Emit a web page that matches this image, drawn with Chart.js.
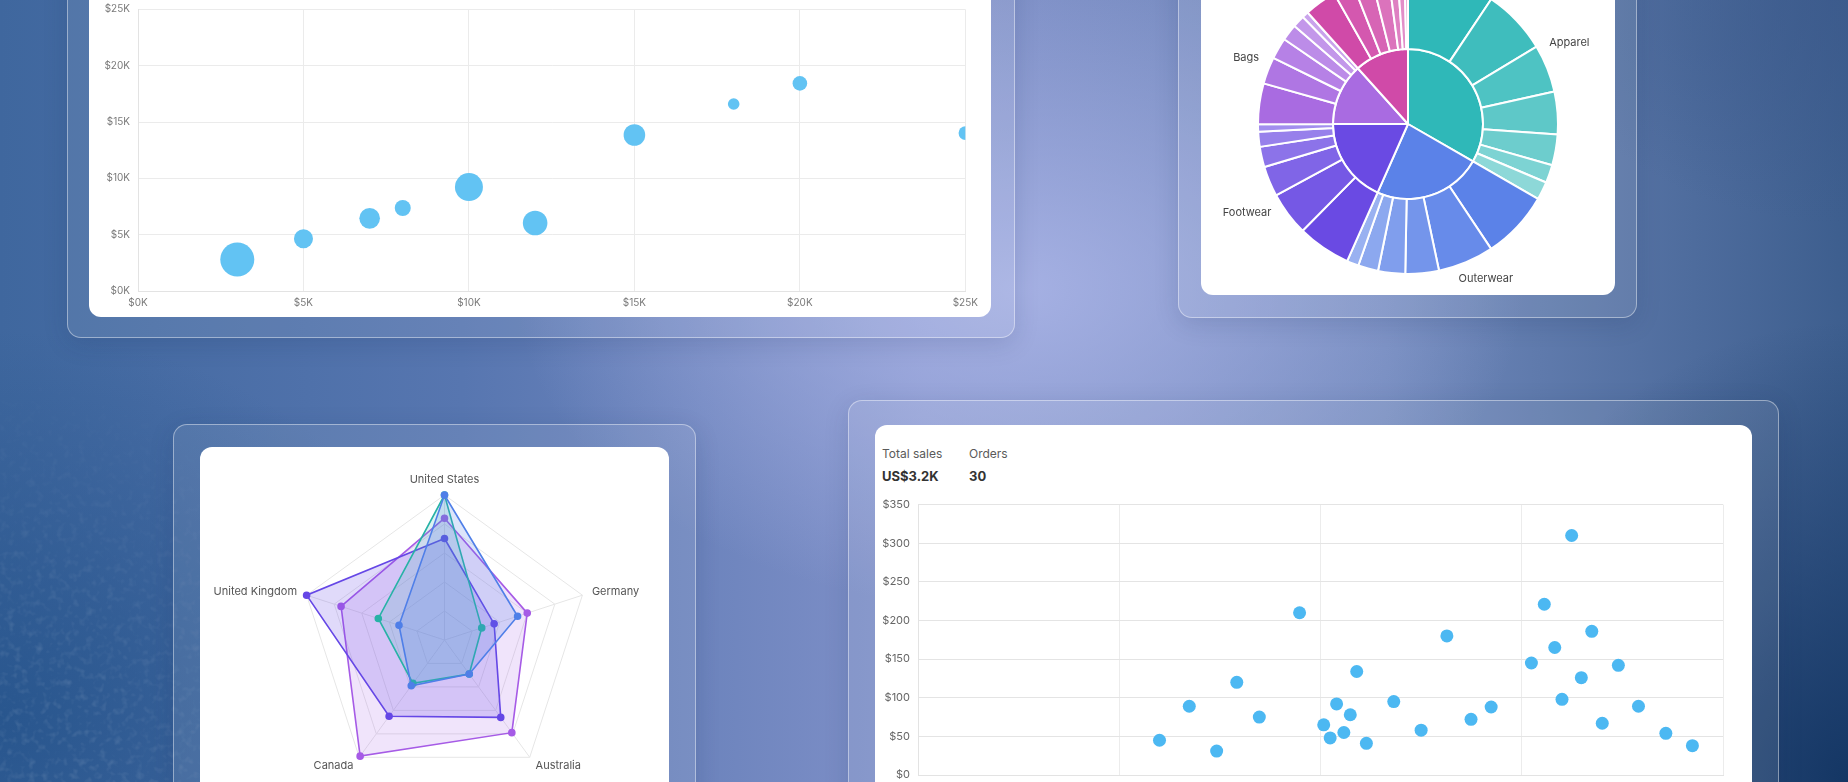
<!DOCTYPE html>
<html>
<head>
<meta charset="utf-8">
<script src="https://cdn.jsdelivr.net/npm/chart.js@4.4.1/dist/chart.umd.min.js"></script>
<style>
html,body{margin:0;padding:0;width:1848px;height:782px;overflow:hidden;}
body{
  position:relative;
  font-family:Inter,"Noto Sans",sans-serif;
  background-color:#5a76ad;
  background-image:
    radial-gradient(ellipse 720px 460px at 1020px 290px, rgba(172,182,232,0.85), rgba(172,182,232,0) 70%),
    radial-gradient(ellipse 560px 640px at 1848px 782px, rgba(18,52,98,0.95), rgba(18,52,98,0) 72%),
    radial-gradient(ellipse 420px 300px at 1848px 0px, rgba(60,90,140,0.7), rgba(60,90,140,0) 75%),
    radial-gradient(ellipse 620px 520px at 0px 720px, rgba(38,84,140,0.9), rgba(38,84,140,0) 75%),
    linear-gradient(90deg, #3f679e 0%, #5776b0 25%, #8191c9 50%, #7088bb 75%, #3d5e8e 100%);
}
.noise{position:absolute;left:0;top:330px;width:380px;height:452px;opacity:0.18;
  background-image:url("data:image/svg+xml;utf8,<svg xmlns='http://www.w3.org/2000/svg' width='380' height='452'><filter id='n'><feTurbulence type='fractalNoise' baseFrequency='0.14' numOctaves='2' seed='3'/><feColorMatrix values='0 0 0 0 1  0 0 0 0 1  0 0 0 0 1  0 0 0 1.4 -0.7'/></filter><rect width='100%' height='100%' filter='url(%23n)'/></svg>");
  -webkit-mask-image:radial-gradient(ellipse 380px 420px at 0px 452px, #000 30%, transparent 100%);
  mask-image:radial-gradient(ellipse 380px 420px at 0px 452px, #000 30%, transparent 100%);
}
.glass{position:absolute;border-radius:14px;background:rgba(255,255,255,0.09);
  border:1.5px solid rgba(255,255,255,0.42);box-shadow:0 6px 24px rgba(20,40,90,0.15);box-sizing:border-box;}
.card{position:absolute;background:#fff;border-radius:12px;}
canvas{position:absolute;}
.hdr{position:absolute;font-family:Inter,sans-serif;white-space:nowrap;}
.lbl{font-size:12px;color:#5a5a5a;}
.val{font-size:13px;color:#333;font-weight:700;}
</style>
</head>
<body>
<div class="noise"></div>

<div class="glass" style="left:67px;top:-200px;width:948px;height:538px;"></div>
<div class="card" style="left:89px;top:-200px;width:902px;height:517px;"></div>

<div class="glass" style="left:1178px;top:-200px;width:459px;height:518px;"></div>
<div class="card" style="left:1201px;top:-200px;width:414px;height:495px;"></div>

<div class="glass" style="left:173px;top:424px;width:523px;height:420px;"></div>
<div class="card" style="left:200px;top:447px;width:469px;height:400px;"></div>

<div class="glass" style="left:848px;top:400px;width:931px;height:440px;"></div>
<div class="card" style="left:875px;top:425px;width:877px;height:420px;"></div>

<div class="hdr lbl" style="left:882px;top:446px;">Total sales</div>
<div class="hdr lbl" style="left:969px;top:446px;">Orders</div>
<div class="hdr val" id="totalSales" style="left:882px;top:468px;"></div>
<div class="hdr val" id="orderCount" style="left:969px;top:468px;"></div>

<canvas id="bubble" width="884" height="337" style="left:100px;top:-20px;width:884px;height:337px;"></canvas>
<canvas id="sunburst" width="480" height="340" style="left:1168px;top:-46px;width:480px;height:340px;"></canvas>
<canvas id="radar" width="469" height="340" style="left:210px;top:447px;width:469px;height:340px;"></canvas>
<canvas id="scatter" width="870" height="340" style="left:875px;top:490px;width:870px;height:340px;"></canvas>

<script>
// ---------- Bubble chart data ----------
const bubbleX = [3000, 5000, 7000, 8000, 10000, 12000, 15000, 18000, 20000, 25000];
const bubbleY = [2800, 4640, 6450, 7370, 9230, 6040, 13850, 16600, 18430, 14020];
const bubbleSize = [17, 9.5, 10.3, 8, 14, 12.3, 10.8, 5.8, 7.3, 6.8];

// ---------- Sunburst data ----------
const categories = ['Apparel', 'Outerwear', 'Footwear', 'Bags', 'Accessories'];
const apparelShare = [33.7, 25.3, 18.5, 16.5, 12, 7, 7];
const outerwearShare = [26.4, 21.7, 13, 10.5, 7.8, 4.6];
const footwearShare = [20.7, 17, 11.7, 7.9, 5.8, 2.9];
const bagsShare = [15.8, 10.4, 8.3, 6.4, 4.7, 2.5];
const accessoriesShare = [12.5, 8, 7.5, 6.5, 3.5, 2.7, 1.3];
const categoryColors = ['#2fb8b8', '#5b82e8', '#6a4ae3', '#a96be1', '#d04aa8'];

// ---------- Radar data ----------
const countries = ['United States', 'Germany', 'Australia', 'Canada', 'United Kingdom'];
const radarBlue = [100, 53, 29, 39, 33];
const radarTeal = [100, 27, 29, 37, 48];
const radarPurple = [84, 60, 79, 99, 75];
const radarIndigo = [70, 36, 66, 65, 100];

// ---------- Orders scatter data ----------
const orderTime = [30.0, 33.7, 37.1, 39.6, 42.4, 47.4, 50.4, 51.2, 52.0, 52.9, 53.7, 54.5, 55.7, 59.1, 62.5,
                   65.7, 68.7, 71.2, 76.2, 77.8, 79.1, 80.0, 81.2, 82.4, 83.7, 85.0, 87.0, 89.5, 92.9, 96.2];
const orderValue = [45, 89, 31, 120, 75, 210, 65, 48, 92, 55, 78, 134, 41, 95, 58,
                    180, 72, 88, 145, 221, 165, 98, 310, 126, 186, 67, 142, 89, 54, 38];

Chart.defaults.font.family = 'Inter, "Noto Sans", sans-serif';
Chart.defaults.animation = false;
Chart.defaults.plugins.legend.display = false;
Chart.defaults.plugins.tooltip.enabled = false;

// ---------- Bubble chart ----------
new Chart(document.getElementById('bubble'), {
  type: 'bubble',
  data: {
    datasets: [{
      data: bubbleX.map((x, i) => ({ x: x, y: bubbleY[i], r: bubbleSize[i] })),
      backgroundColor: '#62c3f3',
      borderWidth: 0,
      hoverRadius: 0
    }]
  },
  options: {
    responsive: false,
    devicePixelRatio: 1,
    layout: { padding: { top: 29.4, right: 16, bottom: 0, left: 0 } },
    scales: {
      x: {
        type: 'linear', min: 0, max: 25000,
        ticks: { stepSize: 5000, padding: 6, color: '#7a7a7a', font: { size: 10 },
                 callback: v => '$' + (v / 1000) + 'K' },
        grid: { color: '#ebebeb', drawTicks: false },
        border: { color: '#e3e3e3' },
        afterFit: s => { s.height = 26; }
      },
      y: {
        min: 0, max: 25000,
        ticks: { stepSize: 5000, padding: 8, color: '#7a7a7a', font: { size: 10 },
                 callback: v => '$' + (v / 1000) + 'K' },
        grid: { color: '#ebebeb', drawTicks: false },
        border: { color: '#e3e3e3' },
        afterFit: s => { s.width = 38; }
      }
    }
  }
});

// ---------- Sunburst ----------
function tint(hex, t) {
  const n = parseInt(hex.slice(1), 16);
  const r = (n >> 16) & 255, g = (n >> 8) & 255, b = n & 255;
  const m = c => Math.round(c + (255 - c) * t);
  return 'rgb(' + m(r) + ',' + m(g) + ',' + m(b) + ')';
}
const subGroups = [apparelShare, outerwearShare, footwearShare, bagsShare, accessoriesShare];
const outerValues = [], outerColors = [];
subGroups.forEach((grp, ci) => {
  grp.forEach((v, i) => { outerValues.push(v); outerColors.push(tint(categoryColors[ci], i * 0.075)); });
});
const innerValues = subGroups.map(g => g.reduce((a, b) => a + b, 0));

const sunburstLabels = {
  id: 'sunburstLabels',
  afterDatasetsDraw(chart) {
    const inner = chart.getDatasetMeta(1);
    const outerR = chart.getDatasetMeta(0).data[0].outerRadius;
    const ctx = chart.ctx;
    ctx.save();
    ctx.font = '11px Inter, "Noto Sans", sans-serif';
    ctx.fillStyle = '#444';
    ctx.textBaseline = 'middle';
    inner.data.forEach((arc, i) => {
      const mid = (arc.startAngle + arc.endAngle) / 2;
      const r = outerR + 13;
      const x = arc.x + Math.cos(mid) * r;
      const y = arc.y + Math.sin(mid) * r;
      ctx.textAlign = Math.cos(mid) >= 0 ? 'left' : 'right';
      ctx.fillText(categories[i], x, y);
    });
    ctx.restore();
  }
};

new Chart(document.getElementById('sunburst'), {
  type: 'doughnut',
  data: {
    labels: categories,
    datasets: [
      { data: outerValues, backgroundColor: outerColors, borderColor: '#ffffff', borderWidth: 2 },
      { data: innerValues, backgroundColor: categoryColors, borderColor: '#ffffff', borderWidth: 2 }
    ]
  },
  options: {
    responsive: false,
    devicePixelRatio: 1,
    cutout: 0,
    layout: { padding: { top: 19, bottom: 19, left: 0, right: 0 } }
  },
  plugins: [sunburstLabels]
});

// ---------- Radar ----------
const radarLabelsPlugin = {
  id: 'radarLabels',
  afterDraw(chart) {
    const s = chart.scales.r;
    const ctx = chart.ctx;
    ctx.save();
    ctx.font = '11px Inter, "Noto Sans", sans-serif';
    ctx.fillStyle = '#555';
    countries.forEach((name, i) => {
      const p = s.getPointPosition(i, s.drawingArea + 10);
      const dx = p.x - s.xCenter, dy = p.y - s.yCenter;
      if (Math.abs(dx) < 2) { ctx.textAlign = 'center'; ctx.textBaseline = dy < 0 ? 'bottom' : 'top'; }
      else { ctx.textAlign = dx > 0 ? 'left' : 'right'; ctx.textBaseline = 'middle'; }
      ctx.fillText(name, p.x, p.y);
    });
    ctx.restore();
  }
};

function radarSet(values, color, fill) {
  return { data: values, borderColor: color, backgroundColor: fill, pointBackgroundColor: color,
           pointBorderColor: color, pointRadius: 3, borderWidth: 1.6, fill: true };
}

new Chart(document.getElementById('radar'), {
  type: 'radar',
  data: {
    labels: countries,
    datasets: [
      radarSet(radarBlue, '#4f7fe8', 'rgba(79,127,232,0.2)'),
      radarSet(radarTeal, '#27b2a6', 'rgba(39,178,166,0.16)'),
      radarSet(radarIndigo, '#6547e6', 'rgba(101,71,230,0.2)'),
      radarSet(radarPurple, '#a65be6', 'rgba(168,92,232,0.17)')
    ]
  },
  options: {
    responsive: false,
    devicePixelRatio: 1,
    scales: {
      r: {
        min: 0, max: 100,
        ticks: { display: false, stepSize: 20 },
        pointLabels: { display: false },
        grid: { color: '#e6e6e6' },
        angleLines: { color: '#e6e6e6' },
        afterFit: s => { s.xCenter = s.chart.width / 2; s.yCenter = 193; s.drawingArea = 145; }
      }
    }
  },
  plugins: [radarLabelsPlugin]
});

// ---------- Orders scatter ----------
const total = orderValue.reduce((a, b) => a + b, 0);
document.getElementById('totalSales').textContent = 'US$' + (total / 1000).toFixed(1) + 'K';
document.getElementById('orderCount').textContent = String(orderValue.length);

new Chart(document.getElementById('scatter'), {
  type: 'scatter',
  data: {
    datasets: [{
      data: orderTime.map((t, i) => ({ x: t, y: orderValue[i] })),
      backgroundColor: '#4cb8f2',
      borderWidth: 0,
      pointRadius: 6.5,
      pointHoverRadius: 6.5
    }]
  },
  options: {
    responsive: false,
    devicePixelRatio: 1,
    layout: { padding: { top: 13, right: 22, bottom: 10, left: 0 } },
    scales: {
      x: {
        type: 'linear', min: 0, max: 100,
        ticks: { display: false, stepSize: 25 },
        grid: { color: '#ececec', drawTicks: false },
        border: { color: '#e3e3e3' },
        afterFit: s => { s.height = 45; }
      },
      y: {
        min: 0, max: 350,
        ticks: { stepSize: 50, padding: 8, color: '#666', font: { size: 11 },
                 callback: v => '$' + v },
        grid: { color: '#e4e4e4', drawTicks: false },
        border: { color: '#e3e3e3' },
        afterFit: s => { s.width = 43; }
      }
    }
  }
});
</script>
</body>
</html>
